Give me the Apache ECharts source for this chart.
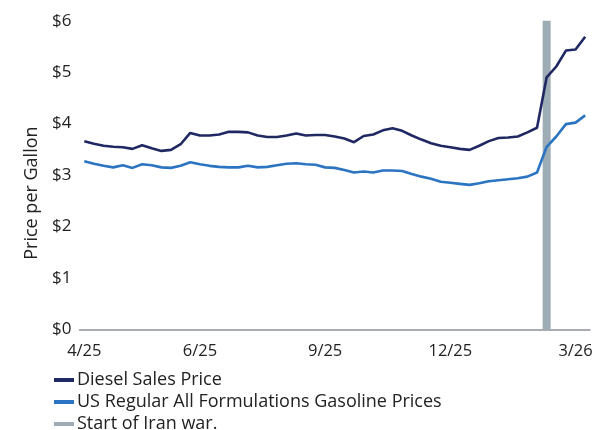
<!DOCTYPE html>
<html>
<head>
<meta charset="utf-8">
<script src="https://cdn.jsdelivr.net/npm/echarts@6/dist/echarts.min.js"></script>
<style>
  html, body { margin: 0; padding: 0; background: #fff; }
  #chart { width: 614px; height: 430px; }
</style>
</head>
<body>
<div id="chart"></div>
<script>
// weekly retail prices, Apr 2025 - Apr 2026
var weeks = [
  '4/7/25', '4/14/25', '4/21/25', '4/28/25', '5/5/25', '5/12/25', '5/19/25', '5/26/25',
  '6/2/25', '6/9/25', '6/16/25', '6/23/25', '6/30/25', '7/7/25', '7/14/25', '7/21/25',
  '7/28/25', '8/4/25', '8/11/25', '8/18/25', '8/25/25', '9/1/25', '9/8/25', '9/15/25',
  '9/22/25', '9/29/25', '10/6/25', '10/13/25', '10/20/25', '10/27/25', '11/3/25', '11/10/25',
  '11/17/25', '11/24/25', '12/1/25', '12/8/25', '12/15/25', '12/22/25', '12/29/25', '1/5/26',
  '1/12/26', '1/19/26', '1/26/26', '2/2/26', '2/9/26', '2/16/26', '2/23/26', '3/2/26',
  '3/9/26', '3/16/26', '3/23/26', '3/30/26', '4/6/26'
];

var diesel = [
  3.66, 3.61, 3.57, 3.55, 3.54, 3.51, 3.58, 3.52, 3.47, 3.49, 3.60, 3.82, 3.77,
  3.77, 3.79, 3.84, 3.84, 3.83, 3.77, 3.74, 3.74, 3.77, 3.81, 3.77, 3.78, 3.78,
  3.75, 3.71, 3.64, 3.76, 3.79, 3.87, 3.91, 3.86, 3.77, 3.69, 3.62, 3.57, 3.54,
  3.51, 3.49, 3.57, 3.66, 3.72, 3.73, 3.75, 3.83, 3.92, 4.90, 5.11, 5.42, 5.44, 5.69
];

var gasoline = [
  3.27, 3.22, 3.18, 3.15, 3.19, 3.14, 3.21, 3.19, 3.15, 3.14, 3.18, 3.25, 3.21,
  3.18, 3.16, 3.15, 3.15, 3.18, 3.15, 3.16, 3.19, 3.22, 3.23, 3.21, 3.20, 3.15,
  3.14, 3.10, 3.05, 3.07, 3.05, 3.09, 3.09, 3.08, 3.02, 2.97, 2.93, 2.87, 2.85,
  2.83, 2.81, 2.84, 2.88, 2.90, 2.92, 2.94, 2.97, 3.05, 3.55, 3.75, 3.99, 4.02, 4.16
];

var warWeek = '3/9/26';
var warHeight = 6;

var tickWeeks = ['4/7/25', '6/30/25', '9/29/25', '12/29/25', '3/30/26'];
var tickLabels = ['4/25', '6/25', '9/25', '12/25', '3/26'];
var yTicks = [0, 1, 2, 3, 4, 5, 6];

var legendNames = ['Diesel Sales Price', 'US Regular All Formulations Gasoline Prices', 'Start of Iran war.'];

var font = 'Open Sans';
var warData = weeks.map(function (w) { return w === warWeek ? warHeight : null; });

// one legend per row so the last row can sit at the bottom edge without wrapping
var legends = legendNames.map(function (name, i) {
  return {
    left: 54,
    top: 371 + i * 22,
    padding: 0,
    icon: 'rect',
    itemWidth: 20,
    itemHeight: 4,
    textStyle: { fontFamily: font, fontSize: 18, lineHeight: 18, color: '#222', padding: [0, 0, 0, -2] },
    data: [name]
  };
});

var chart = echarts.init(document.getElementById('chart'));
chart.setOption({
  animation: false,
  textStyle: { fontFamily: font },
  grid: { left: 79.5, right: 24, top: 20.7, bottom: 100.5 },
  legend: legends,
  xAxis: {
    type: 'category',
    data: weeks,
    boundaryGap: true,
    axisTick: { show: false },
    axisLine: { lineStyle: { color: '#8d9398', width: 1.5 } },
    axisLabel: {
      fontFamily: font,
      fontSize: 16.5,
      color: '#222',
      margin: 13,
      interval: function (i, v) { return tickWeeks.indexOf(v) >= 0; },
      formatter: function (v) { return tickLabels[tickWeeks.indexOf(v)]; }
    }
  },
  yAxis: {
    type: 'value',
    min: yTicks[0],
    max: yTicks[yTicks.length - 1],
    interval: 1,
    splitLine: { show: false },
    axisLine: { show: false },
    axisTick: { show: false },
    axisLabel: {
      fontFamily: font,
      fontSize: 17,
      color: '#222',
      margin: 8,
      formatter: function (v) { return '$' + v; }
    },
    name: 'Price per Gallon',
    nameLocation: 'middle',
    nameGap: 38,
    nameTextStyle: { fontFamily: font, fontSize: 18, color: '#222', padding: [0, 36, 0, 0] }
  },
  series: [
    {
      name: 'Start of Iran war.',
      type: 'bar',
      data: warData,
      barWidth: 8,
      itemStyle: { color: '#9eacb6' },
      z: 1
    },
    {
      name: 'Diesel Sales Price',
      type: 'line',
      data: diesel,
      showSymbol: false,
      symbol: 'none',
      lineStyle: { color: '#1f2862', width: 2.6 },
      itemStyle: { color: '#1f2862' },
      z: 3
    },
    {
      name: 'US Regular All Formulations Gasoline Prices',
      type: 'line',
      data: gasoline,
      showSymbol: false,
      symbol: 'none',
      lineStyle: { color: '#2b74c2', width: 2.6 },
      itemStyle: { color: '#2b74c2' },
      z: 3
    }
  ]
});
</script>
</body>
</html>
